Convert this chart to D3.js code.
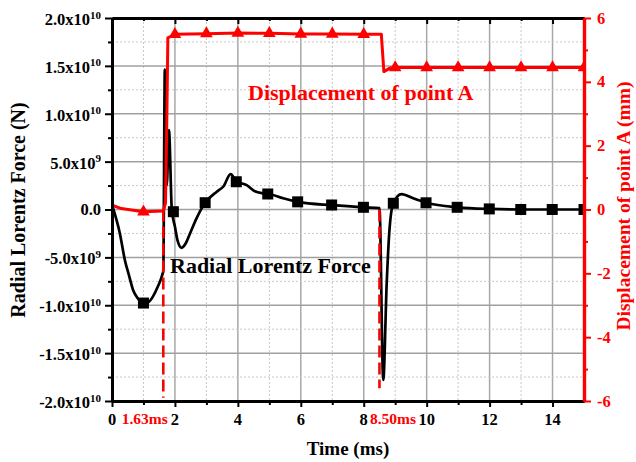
<!DOCTYPE html>
<html><head><meta charset="utf-8">
<script src="https://cdn.jsdelivr.net/npm/d3@7/dist/d3.min.js"></script>
<style>
body{margin:0;background:#fff;}
text{font-family:"Liberation Serif","Times New Roman",serif;font-weight:bold;}
</style></head><body>
<svg id="chart" width="636" height="462"></svg>
<script>
// ---- data (time in ms) ----
const forceTime  = [0,0.25,0.41,0.55,0.67,0.8,1.0,1.15,1.3,1.45,1.6,1.63,1.68,1.74,1.81,1.9,2.0,2.08,2.21,2.35,2.48,2.69,2.96,3.33,3.54,3.77,3.95,4.28,4.54,4.81,5.0,5.44,5.9,7.0,8.0,8.5,8.62,8.73,8.81,8.94,9.2,9.57,10,11,12,13,14,15];
const forceValue = [0.5e9,-2.5e9,-5.3e9,-7.0e9,-8.4e9,-9.2e9,-9.8e9,-9.7e9,-9.1e9,-8.1e9,-6.8e9,-6.4e9,14.6e9,2.5e9,8.3e9,0.0,-1.8e9,-3.2e9,-4.0e9,-3.5e9,-2.5e9,-0.9e9,0.7e9,1.86e9,2.4e9,3.7e9,2.95e9,2.55e9,1.9e9,1.69e9,1.62e9,1.17e9,0.8e9,0.45e9,0.23e9,0.15e9,-17.8e9,-7.7e9,-2.5e9,0.65e9,1.6e9,1.17e9,0.7e9,0.23e9,0.06e9,0,0,0];
const forceMarkTime  = [1,1.95,2.96,3.95,4.95,5.9,6.98,7.99,8.94,9.98,10.97,11.99,12.99,13.99,15];
const forceMarkValue = [-9.77e9,-0.23e9,0.71e9,2.9e9,1.62e9,0.8e9,0.47e9,0.23e9,0.65e9,0.7e9,0.23e9,0.06e9,0,0,0];

const dispTime  = [0,0.3,1,1.63,1.7,1.745,1.775,2,3,4,5,6,7,8,8.56,8.6,8.64,8.83,9,10,11,12,13,14,15];
const dispValue = [0.14,0.03,-0.07,-0.05,0.2,3.0,5.38,5.49,5.51,5.53,5.52,5.5,5.5,5.49,5.49,4.9,4.32,4.43,4.45,4.45,4.45,4.45,4.45,4.45,4.45];
const dispMarkTime  = [1,2,3,4,5,6,7,8,9,10,11,12,13,14,15];
const dispMarkValue = [-0.07,5.49,5.51,5.53,5.52,5.5,5.5,5.49,4.45,4.45,4.45,4.45,4.45,4.45,4.45];

const eventTime   = [1.63, 8.50];
const eventBottom = [-5.9, -5.6];
const eventLabel  = ["1.63ms", "8.50ms"];

const xTicks = [0,2,4,6,8,10,12,14];
const xMinor = [1,3,5,7,9,11,13];
const yLeftTicks = [2e10,1.5e10,1e10,5e9,0,-5e9,-1e10,-1.5e10,-2e10];
const yLeftMain  = ["2.0x10","1.5x10","1.0x10","5.0x10","0.0","-5.0x10","-1.0x10","-1.5x10","-2.0x10"];
const yLeftExp   = ["10","10","10","9","","9","10","10","10"];
const yLeftMinor = [1.75e10,1.25e10,7.5e9,2.5e9,-2.5e9,-7.5e9,-1.25e10,-1.75e10];
const yRightTicks = [6,4,2,0,-2,-4,-6];
const yRightMinor = [5,3,1,-1,-3,-5];

// ---- layout ----
const L=112, R=584, T=18, B=401;
const svg = d3.select("#chart");
const x  = d3.scaleLinear([0,15],[L,R]);
const yL = d3.scaleLinear([-2e10,2e10],[B,T]);
const yR = d3.scaleLinear([-6,6],[B,T]);
const RED = "#ff0000";

svg.append("defs").append("clipPath").attr("id","plotclip")
  .append("rect").attr("x",L).attr("y",T).attr("width",R-L).attr("height",B-T);

// grid
const g = svg.append("g");
d3.range(1,15).forEach(t=>{
  const major = t%2===0;
  g.append("line").attr("x1",x(t)).attr("x2",x(t)).attr("y1",T).attr("y2",B)
   .attr("stroke", major?"#a8a8a8":"#c8c8c8").attr("stroke-width", major?1.5:1)
   .attr("stroke-dasharray", major?null:"2,2");
});
yLeftTicks.slice(1,-1).forEach(v=>{
  g.append("line").attr("x1",L).attr("x2",R).attr("y1",yL(v)).attr("y2",yL(v))
   .attr("stroke","#a0a0a0").attr("stroke-width",1.5);
});
yLeftMinor.forEach(v=>{
  g.append("line").attr("x1",L).attr("x2",R).attr("y1",yL(v)).attr("y2",yL(v))
   .attr("stroke","#c8c8c8").attr("stroke-width",1).attr("stroke-dasharray","2,2");
});

// data
const plot = svg.append("g").attr("clip-path","url(#plotclip)");
const forceData = forceTime.map((t,i)=>[t,forceValue[i]]);
plot.append("path").datum(forceData)
  .attr("d", d3.line().x(d=>x(d[0])).y(d=>yL(d[1])).curve(d3.curveMonotoneX))
  .attr("fill","none").attr("stroke","#000").attr("stroke-width",2.7).attr("stroke-linejoin","round");
plot.selectAll("rect.fm").data(forceMarkTime.map((t,i)=>[t,forceMarkValue[i]])).join("rect")
  .attr("x",d=>x(d[0])-5.5).attr("y",d=>yL(d[1])-5.5).attr("width",11).attr("height",11).attr("fill","#000");

const dispData = dispTime.map((t,i)=>[t,dispValue[i]]);
plot.append("path").datum(dispData)
  .attr("d", d3.line().x(d=>x(d[0])).y(d=>yR(d[1])))
  .attr("fill","none").attr("stroke",RED).attr("stroke-width",3).attr("stroke-linejoin","round");
const tri = d3.symbol().type(d3.symbolTriangle).size(70);
plot.selectAll("path.dm").data(dispMarkTime.map((t,i)=>[t,dispMarkValue[i]])).join("path")
  .attr("d",tri).attr("transform",d=>`translate(${x(d[0])},${yR(d[1])})`).attr("fill",RED);

// event dashed lines
eventTime.forEach((t,i)=>{
  plot.append("line").attr("x1",x(t)).attr("x2",x(t)).attr("y1",yR(0)).attr("y2",yR(eventBottom[i]))
   .attr("stroke",RED).attr("stroke-width",2.6).attr("stroke-dasharray","12,5");
});

// axes
const ax = svg.append("g");
function style(sel,color,w){ sel.selectAll("path").attr("stroke",color).attr("stroke-width",w);
  sel.selectAll("line").attr("stroke",color).attr("stroke-width",2); sel.selectAll("text").remove(); }
// bottom
style(ax.append("g").attr("transform",`translate(0,${B})`).call(d3.axisBottom(x).tickValues(xTicks).tickSize(6).tickSizeOuter(0)),"#000",3);
style(ax.append("g").attr("transform",`translate(0,${B})`).call(d3.axisBottom(x).tickValues(xMinor).tickSize(4).tickSizeOuter(0)),"#000",3);
// top (inward)
style(ax.append("g").attr("transform",`translate(0,${T})`).call(d3.axisBottom(x).tickValues(xTicks.slice(1)).tickSize(6).tickSizeOuter(0)),"#000",3);
style(ax.append("g").attr("transform",`translate(0,${T})`).call(d3.axisBottom(x).tickValues(xMinor).tickSize(3).tickSizeOuter(0)),"#000",3);
// left
style(ax.append("g").attr("transform",`translate(${L},0)`).call(d3.axisLeft(yL).tickValues(yLeftTicks).tickSize(7).tickSizeOuter(0)),"#000",3);
style(ax.append("g").attr("transform",`translate(${L},0)`).call(d3.axisLeft(yL).tickValues(yLeftMinor).tickSize(4).tickSizeOuter(0)),"#000",3);
// right
style(ax.append("g").attr("transform",`translate(${R},0)`).call(d3.axisRight(yR).tickValues(yRightTicks).tickSize(7).tickSizeOuter(0)),RED,3.2);
style(ax.append("g").attr("transform",`translate(${R},0)`).call(d3.axisRight(yR).tickValues(yRightMinor).tickSize(4).tickSizeOuter(0)),RED,3.2);

// tick labels
const lab = svg.append("g");
xTicks.forEach(t=>{
  lab.append("text").attr("x",x(t)).attr("y",425).attr("text-anchor","middle").attr("font-size",16.5).text(t);
});
yLeftTicks.forEach((v,i)=>{
  const hasExp = yLeftExp[i]!=="";
  const tx = lab.append("text").attr("x",101).attr("y",yL(v)+(hasExp?7:5)).attr("text-anchor","end").attr("font-size",16.5);
  tx.append("tspan").text(yLeftMain[i]);
  if(hasExp) tx.append("tspan").attr("dy",-6.5).attr("font-size",11).text(yLeftExp[i]);
});
yRightTicks.forEach(v=>{
  lab.append("text").attr("x",597).attr("y",yR(v)+5.5).attr("text-anchor","start").attr("font-size",16.5).attr("fill",RED).text(v);
});

// event labels
lab.append("text").attr("x",x(eventTime[0])+4.5).attr("y",424).attr("text-anchor","end").attr("font-size",15.5).attr("fill",RED).text(eventLabel[0]);
lab.append("text").attr("x",x(eventTime[1])-9.5).attr("y",424).attr("text-anchor","start").attr("font-size",15.5).attr("fill",RED).text(eventLabel[1]);

// titles
lab.append("text").attr("x",(L+R)/2).attr("y",455).attr("text-anchor","middle").attr("font-size",19).text("Time (ms)");
lab.append("text").attr("transform","translate(25,210) rotate(-90)").attr("text-anchor","middle").attr("font-size",20).text("Radial Lorentz Force (N)");
lab.append("text").attr("transform","translate(630,206) rotate(-90)").attr("text-anchor","middle").attr("font-size",19.5).attr("fill",RED).text("Displacement of point A (mm)");

// annotations
lab.append("text").attr("x",248).attr("y",100).attr("font-size",22).attr("fill",RED).text("Displacement of point A");
lab.append("text").attr("x",170).attr("y",273).attr("font-size",22).attr("fill","#000").text("Radial Lorentz Force");
</script>
</body></html>
